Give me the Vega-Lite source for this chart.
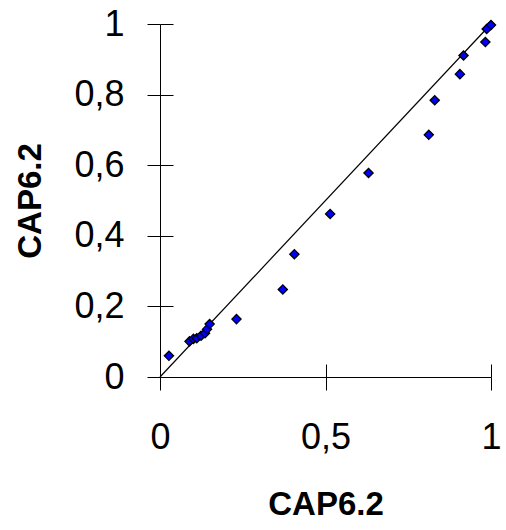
{
  "$schema": "https://vega.github.io/schema/vega-lite/v6.json",
  "autosize": "none",
  "width": 331,
  "height": 353,
  "padding": {"left": 160, "top": 24, "right": 15, "bottom": 153},
  "background": "white",
  "config": {
    "view": {"stroke": null},
    "font": "Liberation Sans",
    "axis": {"grid": false, "domainColor": "black", "tickColor": "black", "labelColor": "black", "titleColor": "black", "labelFont": "Liberation Sans", "titleFont": "Liberation Sans"}
  },
  "datasets": {
    "pts": [
      {"a": 0.027, "b": 0.060},
      {"a": 0.089, "b": 0.101},
      {"a": 0.101, "b": 0.108},
      {"a": 0.111, "b": 0.110},
      {"a": 0.124, "b": 0.117},
      {"a": 0.136, "b": 0.124},
      {"a": 0.142, "b": 0.135},
      {"a": 0.150, "b": 0.150},
      {"a": 0.231, "b": 0.164},
      {"a": 0.371, "b": 0.248},
      {"a": 0.406, "b": 0.348},
      {"a": 0.514, "b": 0.462},
      {"a": 0.630, "b": 0.578},
      {"a": 0.812, "b": 0.686},
      {"a": 0.830, "b": 0.784},
      {"a": 0.906, "b": 0.858},
      {"a": 0.917, "b": 0.911},
      {"a": 0.983, "b": 0.949},
      {"a": 0.987, "b": 0.986},
      {"a": 1.0, "b": 0.997}
    ],
    "diag": [{"a": 0, "b": 0}, {"a": 1, "b": 1}]
  },
  "layer": [
    {
      "data": {"name": "diag"},
      "mark": {"type": "line", "color": "black", "strokeWidth": 1.2, "clip": false},
      "encoding": {
        "x": {"field": "a", "type": "quantitative", "scale": {"domain": [0, 1], "nice": false, "zero": false},
          "axis": {"orient": "bottom", "values": [0, 0.5, 1], "tickSize": -13, "labels": false, "domain": false, "title": null}},
        "y": {"field": "b", "type": "quantitative", "scale": {"domain": [0, 1], "nice": false, "zero": false},
          "axis": {"orient": "left", "values": [0, 0.2, 0.4, 0.6, 0.8, 1], "tickSize": -13, "labels": false, "domain": false, "title": null}}
      }
    },
    {
      "data": {"name": "pts"},
      "mark": {"type": "point", "shape": "diamond", "filled": true, "fill": "#0000ff", "stroke": "black", "strokeWidth": 1.3, "size": 85, "opacity": 1, "clip": false},
      "encoding": {
        "x": {"field": "a", "type": "quantitative", "scale": {"domain": [0, 1], "nice": false, "zero": false},
          "axis": {"orient": "bottom", "values": [0, 0.5, 1], "tickSize": 13, "labelFontSize": 36, "labelPadding": 30, "labelExpr": "replace(format(datum.value, '.1~f'), '.', ',')", "labelFlush": false, "labelOverlap": false, "title": "CAP6.2", "titleFontSize": 33, "titleFontWeight": "bold", "titlePadding": 33}},
        "y": {"field": "b", "type": "quantitative", "scale": {"domain": [0, 1], "nice": false, "zero": false},
          "axis": {"orient": "left", "values": [0, 0.2, 0.4, 0.6, 0.8, 1], "tickSize": 13, "labelFontSize": 36, "labelPadding": 23, "labelExpr": "replace(format(datum.value, '.1~f'), '.', ',')", "labelFlush": false, "labelOverlap": false, "title": "CAP6.2", "titleFontSize": 33, "titleFontWeight": "bold", "titlePadding": 26}}
      }
    }
  ],
  "resolve": {"scale": {"x": "independent", "y": "independent"}, "axis": {"x": "independent", "y": "independent"}}
}
